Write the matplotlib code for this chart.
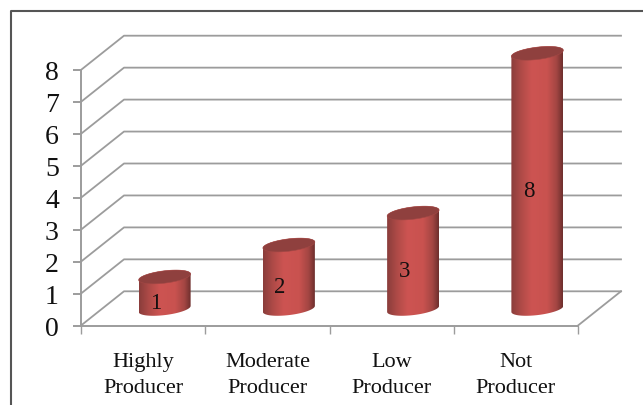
#!/usr/bin/env python3
# -*- coding: utf-8 -*-
import numpy as np
import matplotlib
matplotlib.use("Agg")
import matplotlib.pyplot as plt
from matplotlib.colors import LinearSegmentedColormap
from matplotlib.patches import PathPatch, Polygon
from matplotlib.path import Path
from matplotlib.lines import Line2D

categories = ["Highly\nProducer", "Moderate\nProducer", "Low\nProducer", "Not\nProducer"]
values = [1, 2, 3, 8]
y_ticks = [0, 1, 2, 3, 4, 5, 6, 7, 8]

W, H = 643, 406
GRID = "#9c9c9c"
TEXT = "#111111"

plt.rcParams["font.family"] = ["Liberation Serif", "DejaVu Serif"]

fig = plt.figure(figsize=(W / 100, H / 100), dpi=100)
ax = fig.add_axes([81 / W, (H - 326.5) / H, 497 / W, 255.6 / H])
ax.set_xlim(0, 4)
ax.set_ylim(0, 8)

# pixel sizes expressed in data units
ux = 4 / 497
uy = 8 / 255.6
depth_x = 43 * ux
depth_y = 34.2 * uy

# back wall and left wall lines
for v in y_ticks:
    ax.plot([4 + depth_x, depth_x, 0], [v + depth_y, v + depth_y, v],
            color=GRID, lw=1.3, clip_on=False, zorder=1)
ax.plot([4, 4 + depth_x], [0, depth_y], color=GRID, lw=1.3, clip_on=False, zorder=1)

for s in ["top", "right"]:
    ax.spines[s].set_visible(False)
for s in ["left", "bottom"]:
    ax.spines[s].set_color(GRID)
    ax.spines[s].set_linewidth(1.4)

ax.set_yticks(y_ticks)
ax.tick_params(axis="y", length=6, width=1.4, color=GRID, pad=10,
               labelsize=20, labelcolor=TEXT)
ax.set_xticks(range(5))
ax.set_xticklabels([])
ax.tick_params(axis="x", which="major", length=5.5, width=1.0, color=GRID)
ax.set_xticks(np.arange(len(categories)) + 0.5, minor=True)
ax.set_xticklabels(categories, minor=True, fontsize=16, color=TEXT, linespacing=1.52)
ax.tick_params(axis="x", which="minor", length=0, pad=19)

# cylinder shading, dark at the edges and lightest left of centre
shade = LinearSegmentedColormap.from_list(
    "cyl", [(0, "#8a3d3b"), (0.2, "#b04b48"), (0.4, "#cd5452"), (0.7, "#c9524f"),
            (0.88, "#a34643"), (1, "#6e2f2d")])
grad = np.linspace(0, 1, 128).reshape(1, -1)

rx = 26 * ux
ry = 6.2 * uy
tilt = 3.0 * uy
t = np.linspace(0, 2 * np.pi, 97)


def ring(cx, cy, a):
    return cx + rx * np.cos(a), cy + ry * np.sin(a) + tilt * np.cos(a)


for i, v in enumerate(values):
    cx = i + 0.5 + depth_x / 2
    cy = depth_y / 2 - 0.5 * uy
    # lower half of the base, then back over the upper half of the top
    bx, by = ring(cx, cy, np.linspace(np.pi, 2 * np.pi, 49))
    tx, ty = ring(cx, cy + v, np.linspace(0, np.pi, 49))
    verts = np.column_stack([np.r_[bx, tx], np.r_[by, ty]])
    body = Polygon(verts, closed=True, transform=ax.transData, fc="none", ec="none")
    ax.add_patch(body)
    im = ax.imshow(grad, cmap=shade, aspect="auto", interpolation="bilinear",
                   extent=[cx - rx, cx + rx, cy - 1, cy + v + 1], zorder=3)
    im.set_clip_path(body)
    im.set_clip_box(fig.bbox)

    ex, ey = ring(cx, cy + v, t)
    ax.add_patch(PathPatch(Path(np.column_stack([ex, ey])), fc="#8f403e", ec="#a34845",
                           lw=0.4, zorder=4, clip_on=False))
    ax.text(i + 0.5 + 12.5 * ux, v / 2 + 7.5 * uy, str(v), ha="center", va="center",
            fontsize=16.5, color="#151010", zorder=5)

ax.set_xlim(0, 4)
ax.set_ylim(0, 8)

# outer frame along the top and left
fig.add_artist(Line2D([11 / W, 11 / W, 1], [0, (H - 12) / H, (H - 12) / H],
                      color="#555555", lw=1.5))

fig.savefig("out.png", dpi=100)
